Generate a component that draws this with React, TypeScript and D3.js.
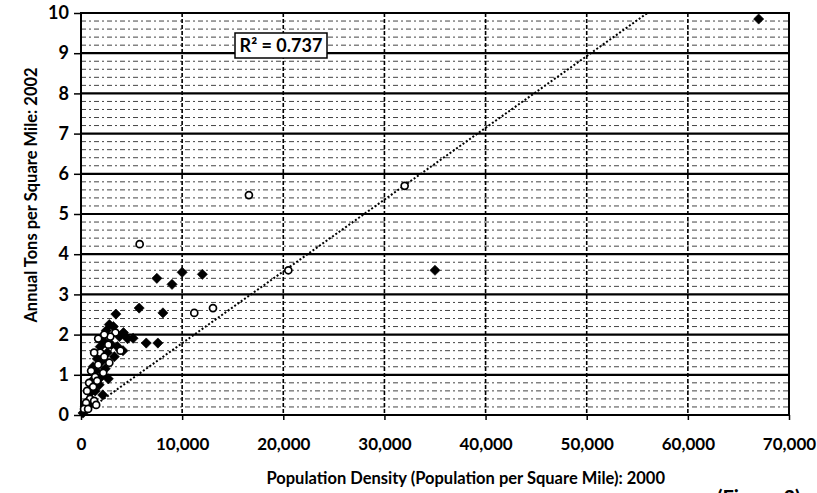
import React, { useEffect, useRef } from "react";
import * as d3 from "d3";

// axis ticks
const xTicks = [0, 10000, 20000, 30000, 40000, 50000, 60000, 70000];
const yTicks = [0, 1, 2, 3, 4, 5, 6, 7, 8, 9, 10];

// [population density, annual tons per sq mile]
const filledPoints = [
  [67000, 9.85], [35000, 3.6], [12000, 3.5], [10000, 3.55], [7500, 3.4], [9000, 3.25],
  [8100, 2.54], [5750, 2.66], [3450, 2.51], [6450, 1.79], [7600, 1.79], [5150, 1.91],
  [4150, 1.6], [2150, 0.5],
  [4200, 2.05], [3800, 1.95], [4600, 1.9], [3200, 2.2], [2800, 2.25], [2500, 2.1],
  [3600, 1.7], [3000, 1.75], [2200, 1.85], [1900, 1.7], [2600, 1.55], [3300, 1.45],
  [2100, 1.35], [1600, 1.4], [2400, 1.15], [1500, 1.1], [1200, 1.2], [2000, 0.95],
  [1800, 0.75], [1100, 0.85], [1400, 0.6], [900, 0.55], [700, 0.35], [400, 0.2],
  [200, 0.05], [1000, 0.3], [2700, 0.9],
];

const openPoints = [
  [32000, 5.7], [16600, 5.47], [5800, 4.25], [20500, 3.6], [13050, 2.66], [11200, 2.54],
  [3400, 2.05], [2900, 1.95], [2300, 2.0], [1700, 1.9], [2700, 1.75], [1900, 1.55],
  [2300, 1.45], [1300, 1.55], [1700, 1.25], [2800, 1.3], [1000, 1.1], [1400, 0.95],
  [2200, 1.05], [800, 0.8], [1200, 0.7], [1600, 0.85], [600, 0.6], [900, 0.4],
  [1300, 0.35], [500, 0.3], [300, 0.15], [700, 0.15], [1500, 0.25], [3900, 1.6],
];

// linear trend line ends
const trendX = [0, 56000];
const trendY = [0, 10];

const rSquaredLabel = "R² = 0.737";
const xTitle = "Population Density (Population per Square Mile): 2000";
const yTitle = "Annual Tons per Square Mile: 2002";
const footNote = "(Figure 3)";

const FONT = "Lato, 'Open Sans', sans-serif";

export default function App() {
  const svgRef = useRef(null);

  useEffect(() => {
    const width = 817;
    const height = 493;
    const svg = d3.select(svgRef.current)
      .attr("width", width)
      .attr("height", height);

    svg.selectAll("*").remove();

    const xScale = d3.scaleLinear().domain([0, 70000]).range([81, 789]);
    const yScale = d3.scaleLinear().domain([0, 10]).range([415, 13]);

    svg.append("rect")
      .attr("width", width)
      .attr("height", height)
      .attr("fill", "#fff");

    // minor horizontal grid every 0.2
    const minor = yScale.ticks(50).filter((v) => Math.abs(v - Math.round(v)) > 0.01);
    svg.append("g")
      .selectAll("line")
      .data(minor)
      .join("line")
      .attr("x1", xScale(0))
      .attr("x2", xScale(70000))
      .attr("y1", (d) => yScale(d))
      .attr("y2", (d) => yScale(d))
      .attr("stroke", "#444")
      .attr("stroke-width", 1)
      .attr("stroke-dasharray", "5,3,2,3");

    // major horizontal grid
    svg.append("g")
      .selectAll("line")
      .data(yTicks)
      .join("line")
      .attr("x1", xScale(0))
      .attr("x2", xScale(70000))
      .attr("y1", (d) => yScale(d))
      .attr("y2", (d) => yScale(d))
      .attr("stroke", "#000")
      .attr("stroke-width", 2.2);

    // vertical grid
    svg.append("g")
      .selectAll("line")
      .data(xTicks.slice(1, -1))
      .join("line")
      .attr("x1", (d) => xScale(d))
      .attr("x2", (d) => xScale(d))
      .attr("y1", yScale(10))
      .attr("y2", yScale(0))
      .attr("stroke", "#000")
      .attr("stroke-width", 1.6)
      .attr("stroke-dasharray", "4,2");

    // plot border
    svg.append("rect")
      .attr("x", xScale(0))
      .attr("y", yScale(10))
      .attr("width", xScale(70000) - xScale(0))
      .attr("height", yScale(0) - yScale(10))
      .attr("fill", "none")
      .attr("stroke", "#000")
      .attr("stroke-width", 2);

    // axes
    const yAxis = svg.append("g")
      .attr("transform", `translate(${xScale(0)},0)`)
      .call(d3.axisLeft(yScale).tickValues(yTicks).tickSize(7).tickPadding(5).tickSizeOuter(0));
    const xAxis = svg.append("g")
      .attr("transform", `translate(0,${yScale(0)})`)
      .call(d3.axisBottom(xScale).tickValues(xTicks).tickSize(5).tickPadding(18).tickSizeOuter(0)
        .tickFormat(d3.format(",")));
    [yAxis, xAxis].forEach((ax) => {
      ax.select(".domain").remove();
      ax.selectAll("line").attr("stroke", "#000").attr("stroke-width", 1.5);
      ax.selectAll("text")
        .attr("fill", "#000")
        .style("font-family", FONT)
        .style("font-weight", 700);
    });
    yAxis.selectAll("text").style("font-size", "18px");
    xAxis.selectAll("text").style("font-size", "17px");

    // trend line
    svg.append("line")
      .attr("x1", xScale(trendX[0]))
      .attr("y1", yScale(trendY[0]))
      .attr("x2", xScale(trendX[1]))
      .attr("y2", yScale(trendY[1]))
      .attr("stroke", "#000")
      .attr("stroke-width", 2)
      .attr("stroke-dasharray", "2,2");

    // points
    svg.append("g")
      .selectAll("rect")
      .data(filledPoints)
      .join("rect")
      .attr("x", -3.6)
      .attr("y", -3.6)
      .attr("width", 7.2)
      .attr("height", 7.2)
      .attr("transform", (d) => `translate(${xScale(d[0])},${yScale(d[1])}) rotate(45)`)
      .attr("fill", "#000")
      .attr("stroke", "#000")
      .attr("stroke-width", 0.6);

    svg.append("g")
      .selectAll("circle")
      .data(openPoints)
      .join("circle")
      .attr("cx", (d) => xScale(d[0]))
      .attr("cy", (d) => yScale(d[1]))
      .attr("r", 3.5)
      .attr("fill", "#fff")
      .attr("stroke", "#000")
      .attr("stroke-width", 1.7);

    // R² label
    svg.append("rect")
      .attr("x", 235)
      .attr("y", 33)
      .attr("width", 92)
      .attr("height", 25)
      .attr("fill", "#fff")
      .attr("stroke", "#000")
      .attr("stroke-width", 1.5);
    svg.append("text")
      .attr("x", 281)
      .attr("y", 52)
      .attr("text-anchor", "middle")
      .style("font-family", FONT)
      .style("font-weight", 700)
      .style("font-size", "18px")
      .attr("fill", "#000")
      .text(rSquaredLabel);

    // titles
    svg.append("text")
      .attr("transform", `translate(37,195) rotate(-90)`)
      .attr("text-anchor", "middle")
      .style("font-family", FONT)
      .style("font-weight", 700)
      .style("font-size", "16.5px")
      .attr("fill", "#000")
      .text(yTitle);

    svg.append("text")
      .attr("x", 665)
      .attr("y", 484)
      .attr("text-anchor", "end")
      .style("font-family", FONT)
      .style("font-weight", 700)
      .style("font-size", "16.5px")
      .attr("fill", "#000")
      .text(xTitle);

    svg.append("text")
      .attr("x", 717)
      .attr("y", 505)
      .style("font-family", FONT)
      .style("font-weight", 700)
      .style("font-size", "20px")
      .attr("fill", "#000")
      .text(footNote);
  }, []);

  return (
    <svg ref={svgRef} style={{ position: "absolute", left: 0, top: 0 }} />
  );
}
